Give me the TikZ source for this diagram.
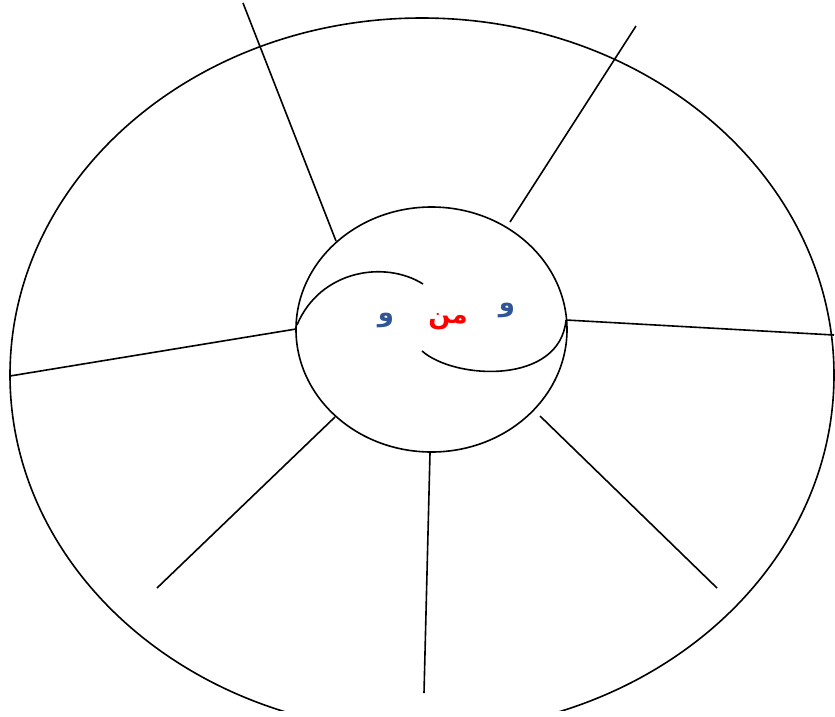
\documentclass[tikz,border=0pt]{standalone}
\usepackage{fontspec}
\newfontfamily\arabicfont[Script=Arabic]{DejaVu Sans}
\TeXXeTstate=1
\definecolor{wblue}{HTML}{2F5597}
\begin{document}
\begin{tikzpicture}[x=1pt,y=-1pt,
  ln/.style={line width=1.6pt,black},
  lbl/.style={font=\arabicfont\bfseries\fontsize{26}{30}\selectfont,inner sep=0pt}]
\useasboundingbox (0,0) rectangle (835,716);
\begin{scope}
\clip (0,0) rectangle (835,710);
\draw[ln] (422,375) ellipse [x radius=412, y radius=357];
\end{scope}
\draw[ln] (431.5,329.5) ellipse [x radius=135.5, y radius=122.5];
% spokes
\coordinate (a1) at (243,3);   \coordinate (b1) at (336,241);
\coordinate (a2) at (636,26);  \coordinate (b2) at (510,222);
\coordinate (a3) at (10,376);  \coordinate (b3) at (296,329);
\coordinate (a4) at (834,335); \coordinate (b4) at (566,320);
\coordinate (a5) at (157,588); \coordinate (b5) at (335,417);
\coordinate (a6) at (424,693); \coordinate (b6) at (430,453);
\coordinate (a7) at (717,588); \coordinate (b7) at (540,416);
\foreach \i in {1,...,7} \draw[ln] (a\i) -- (b\i);
% inner curves
\coordinate (u0) at (297,325); \coordinate (u1) at (423,284);
\draw[ln] (u0) .. controls (320,270) and (385,260) .. (u1);
\coordinate (l0) at (422,351); \coordinate (l1) at (566,320);
\draw[ln] (l0) .. controls (455,380) and (560,385) .. (l1);
% labels
\node[lbl,text=wblue] (t1) at (386,320) {\beginR و\endR};
\node[lbl,text=red] (t2) at (448,322) {\beginR من\endR};
\node[lbl,text=wblue] (t3) at (507,310) {\beginR و\endR};
\end{tikzpicture}
\end{document}
